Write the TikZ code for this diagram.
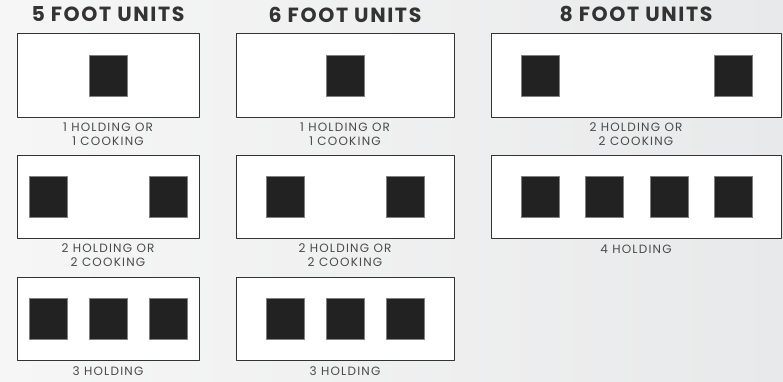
\documentclass[tikz,border=0pt]{standalone}
\usepackage{fontspec}
\usetikzlibrary{positioning}
\newfontfamily\headfont{Poppins}[UprightFont=* Bold, LetterSpace=8]
\newfontfamily\capfont{Poppins}[LetterSpace=10]
\definecolor{bgleft}{HTML}{F6F6F6}
\definecolor{bgright}{HTML}{E8E9EA}
\definecolor{edgegray}{HTML}{333333}
\definecolor{pangray}{HTML}{222222}
\definecolor{textgray}{HTML}{4A4A4A}
\tikzset{
	unitbox/.style={draw=edgegray, fill=white, line width=0.9pt, inner sep=0pt},
	pan/.style={fill=pangray, draw=gray, line width=0.5pt, minimum width=38, minimum height=41, inner sep=0pt},
	title/.style={text=edgegray, font=\headfont\fontsize{20.5}{20.5}\selectfont, inner sep=0pt},
	caption/.style={text=textgray, font=\capfont\fontsize{12}{13.5}\selectfont, align=center, inner sep=0pt}
}
\begin{document}
\begin{tikzpicture}[x=1pt, y=-1pt, line join=round]
			\useasboundingbox (0,0) rectangle (783,382);
			\fill[left color=bgleft, right color=bgright] (0,0) rectangle (783,382);
			% column titles
			\node[title] (t5) at (108,14.5) {5 FOOT UNITS};
			\node[title] (t6) at (345,14.5) {6 FOOT UNITS};
			\node[title] (t8) at (636,14.5) {8 FOOT UNITS};
			% unit outlines
			\node[unitbox, minimum width=182, minimum height=84] (f5a) at (108,75) {};
			\node[unitbox, minimum width=182, minimum height=83] (f5b) at (108,196.5) {};
			\node[unitbox, minimum width=182, minimum height=83] (f5c) at (108,318.5) {};
			\node[unitbox, minimum width=218, minimum height=84] (f6a) at (345,75) {};
			\node[unitbox, minimum width=218, minimum height=83] (f6b) at (345,196.5) {};
			\node[unitbox, minimum width=218, minimum height=83] (f6c) at (345,318.5) {};
			\node[unitbox, minimum width=290, minimum height=84] (f8a) at (636,75) {};
			\node[unitbox, minimum width=290, minimum height=83] (f8b) at (636,196.5) {};
			% wells
			\node[pan] (p5a1) at (108,75.5) {};
			\foreach \x [count=\i] in {48.5,168} \node[pan] (p5b\i) at (\x,197) {};
			\foreach \x [count=\i] in {48.5,108.5,168} \node[pan] (p5c\i) at (\x,318.5) {};
			\node[pan] (p6a1) at (345,75.5) {};
			\foreach \x [count=\i] in {285,405} \node[pan] (p6b\i) at (\x,197) {};
			\foreach \x [count=\i] in {285,345,405} \node[pan] (p6c\i) at (\x,318.5) {};
			\foreach \x [count=\i] in {540,733.5} \node[pan] (p8a\i) at (\x,75.5) {};
			\foreach \x [count=\i] in {540,604.5,669.5,733.5} \node[pan] (p8b\i) at (\x,197) {};
			% captions
			\node[caption, below=5.5pt of f5a] (c5a) {1 HOLDING OR\\1 COOKING};
			\node[caption, below=5.5pt of f5b] (c5b) {2 HOLDING OR\\2 COOKING};
			\node[caption, below=6.5pt of f5c] (c5c) {3 HOLDING};
			\node[caption, below=5.5pt of f6a] (c6a) {1 HOLDING OR\\1 COOKING};
			\node[caption, below=5.5pt of f6b] (c6b) {2 HOLDING OR\\2 COOKING};
			\node[caption, below=6.5pt of f6c] (c6c) {3 HOLDING};
			\node[caption, below=5.5pt of f8a] (c8a) {2 HOLDING OR\\2 COOKING};
			\node[caption, below=6.5pt of f8b] (c8b) {4 HOLDING};
		\end{tikzpicture}
\end{document}
